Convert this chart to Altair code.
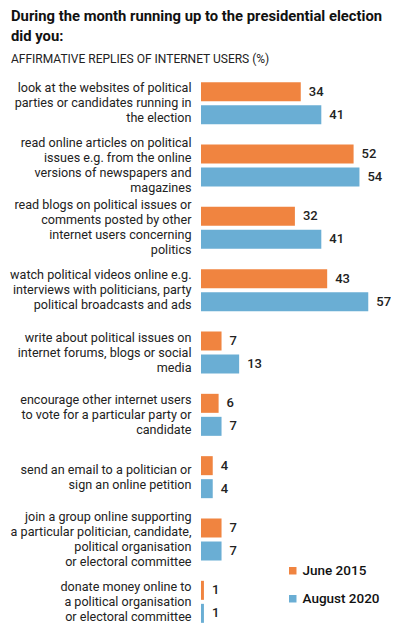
import altair as alt
import pandas as pd

categories = [
    "look at the websites of political|parties or candidates running in|the election",
    "read online articles on political|issues e.g. from the online|versions of newspapers and|magazines",
    "read blogs on political issues or|comments posted by other|internet users concerning|politics",
    "watch political videos online e.g.|interviews with politicians, party|political broadcasts and ads",
    "write about political issues on|internet forums, blogs or social|media",
    "encourage other internet users|to vote for a particular party or|candidate",
    "send an email to a politician or|sign an online petition",
    "join a group online supporting|a particular politician, candidate,|political organisation|or electoral committee",
    "donate money online to|a political organisation|or electoral committee",
]
series = ["June 2015", "August 2020"]
june_2015 = [34, 52, 32, 43, 7, 6, 4, 7, 1]
august_2020 = [41, 54, 41, 57, 13, 7, 4, 7, 1]
colors = ["#F08440", "#6AAED4"]

rows = []
for c, a, b in zip(categories, june_2015, august_2020):
    rows.append({"activity": c, "period": series[0], "value": a})
    rows.append({"activity": c, "period": series[1], "value": b})
df = pd.DataFrame(rows)

FONT = "Roboto"

base = alt.Chart(df).encode(
    y=alt.Y(
        "activity:N",
        sort=categories,
        title=None,
        scale=alt.Scale(paddingInner=0.326, paddingOuter=0.163),
        axis=alt.Axis(
            labelExpr="split(datum.label, '|')",
            labelLineHeight=15,
            labelFontSize=12.6,
            labelFont=FONT,
            labelColor="#222222",
            labelLimit=300,
            labelPadding=10,
            labelBaseline="middle",
            labelOffset={"expr": "-(length(split(datum.label, '|')) - 1) * 7.5"},
            domain=False,
            ticks=False,
            grid=False,
        ),
    ),
    yOffset=alt.YOffset(
        "period:N",
        sort=series,
        scale=alt.Scale(paddingInner=0.174, paddingOuter=0),
    ),
    x=alt.X(
        "value:Q",
        scale=alt.Scale(domain=[0, 61], nice=False),
        axis=None,
    ),
)

bars = base.mark_bar().encode(
    color=alt.Color(
        "period:N",
        sort=series,
        scale=alt.Scale(domain=series, range=colors),
        legend=alt.Legend(
            title=None,
            orient="none",
            legendX=85,
            legendY=492,
            symbolType="square",
            symbolSize=56,
            symbolOpacity=1,
            labelFont=FONT,
            labelFontSize=13.5,
            labelFontWeight=500,
            labelColor="#111111",
            rowPadding=13,
            labelOffset=3,
        ),
    )
)

labels = base.mark_text(
    align="left",
    baseline="middle",
    dx=8,
    font=FONT,
    fontSize=13,
    fontWeight=500,
    color="#222222",
).encode(text=alt.Text("value:Q"))

chart = (
    alt.layer(bars, labels)
    .properties(
        width=179,
        height=561,
        autosize=alt.AutoSizeParams(type="none"),
        padding={"left": 193, "top": 64, "right": 11, "bottom": 2},
        title=alt.TitleParams(
            text=["During the month running up to the presidential election", "did you:"],
            subtitle="AFFIRMATIVE REPLIES OF INTERNET USERS (%)",
            anchor="start",
            frame="group",
            font=FONT,
            fontSize=14.8,
            fontWeight="bold",
            color="#111111",
            lineHeight=20,
            subtitleFont=FONT,
            subtitleFontSize=12,
            subtitleColor="#222222",
            subtitlePadding=10,
            offset=7,
            dx=-190,
        ),
    )
    .configure_view(stroke=None)
)

chart.save("out.html", embed_options={"renderer": "svg", "actions": False})
